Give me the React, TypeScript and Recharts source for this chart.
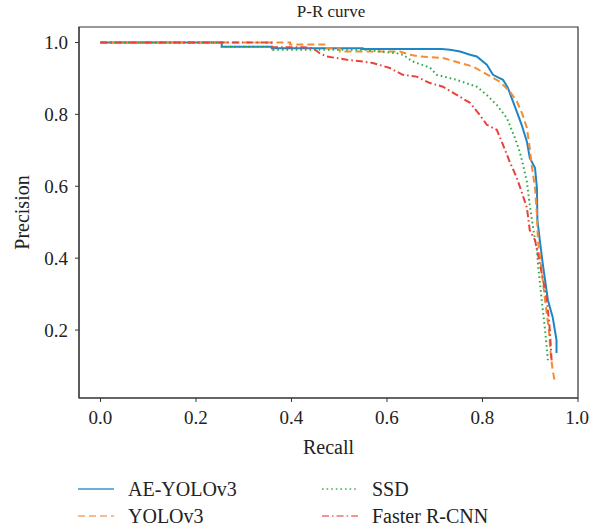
import { LineChart, Line, XAxis, YAxis, ReferenceArea } from "recharts";

const aeRecall = [0, 0.254, 0.254, 0.359, 0.359, 0.549, 0.549, 0.715, 0.732, 0.753, 0.774, 0.788, 0.809, 0.822, 0.843, 0.853, 0.861, 0.872, 0.882, 0.893, 0.899, 0.91, 0.914, 0.915, 0.92, 0.926, 0.937, 0.947, 0.955, 0.955];
const aePrecision = [1, 1, 0.988, 0.988, 0.984, 0.984, 0.982, 0.982, 0.98, 0.975, 0.966, 0.961, 0.938, 0.91, 0.896, 0.874, 0.846, 0.807, 0.771, 0.724, 0.679, 0.651, 0.595, 0.506, 0.45, 0.386, 0.283, 0.236, 0.172, 0.136];

const yoloRecall = [0, 0.397, 0.397, 0.474, 0.474, 0.501, 0.501, 0.627, 0.648, 0.669, 0.717, 0.753, 0.78, 0.811, 0.836, 0.857, 0.872, 0.884, 0.893, 0.899, 0.903, 0.91, 0.914, 0.916, 0.922, 0.931, 0.939, 0.943, 0.947, 0.951];
const yoloPrecision = [1, 1, 0.994, 0.994, 0.984, 0.984, 0.975, 0.975, 0.966, 0.961, 0.957, 0.943, 0.933, 0.91, 0.891, 0.864, 0.836, 0.799, 0.762, 0.706, 0.659, 0.595, 0.52, 0.45, 0.386, 0.283, 0.2, 0.13, 0.088, 0.06];

const ssdRecall = [0, 0.254, 0.254, 0.361, 0.361, 0.549, 0.62, 0.633, 0.654, 0.69, 0.704, 0.746, 0.788, 0.809, 0.83, 0.851, 0.868, 0.878, 0.885, 0.893, 0.899, 0.91, 0.914, 0.916, 0.924, 0.931, 0.937];
const ssdPrecision = [1, 1, 0.988, 0.988, 0.98, 0.98, 0.97, 0.966, 0.947, 0.93, 0.91, 0.896, 0.877, 0.854, 0.826, 0.79, 0.734, 0.696, 0.659, 0.612, 0.548, 0.45, 0.423, 0.386, 0.283, 0.2, 0.116];

const frcnnRecall = [0, 0.358, 0.358, 0.424, 0.445, 0.459, 0.474, 0.516, 0.549, 0.57, 0.606, 0.633, 0.662, 0.69, 0.717, 0.746, 0.774, 0.794, 0.809, 0.83, 0.843, 0.857, 0.872, 0.884, 0.893, 0.899, 0.91, 0.92, 0.935, 0.941, 0.945];
const frcnnPrecision = [1, 1, 0.987, 0.987, 0.984, 0.97, 0.961, 0.952, 0.947, 0.943, 0.929, 0.91, 0.905, 0.887, 0.877, 0.854, 0.832, 0.799, 0.771, 0.757, 0.715, 0.668, 0.623, 0.576, 0.54, 0.478, 0.45, 0.386, 0.283, 0.2, 0.11];

const xTicks = [0, 0.2, 0.4, 0.6, 0.8, 1.0];
const yTicks = [0.2, 0.4, 0.6, 0.8, 1.0];

const zip = (xs: number[], ys: number[]) => xs.map((x, i) => ({ x, y: ys[i] }));

const series = [
  { name: "AE-YOLOv3", data: zip(aeRecall, aePrecision), color: "#1f86c6", dash: undefined, legendColor: "#3a93cc" },
  { name: "YOLOv3", data: zip(yoloRecall, yoloPrecision), color: "#f58b33", dash: "7 4", legendColor: "#f7a466" },
  { name: "SSD", data: zip(ssdRecall, ssdPrecision), color: "#2eaa4a", dash: "1.6 3", legendColor: "#3fb05a" },
  { name: "Faster R-CNN", data: zip(frcnnRecall, frcnnPrecision), color: "#e8423c", dash: "7 3 1.6 3", legendColor: "#f07272" },
];

const font = "Liberation Serif, DejaVu Serif, serif";

function LegendItem({ s, left, top }: { s: (typeof series)[number]; left: number; top: number }) {
  return (
    <div style={{ position: "absolute", left, top, display: "flex", alignItems: "center", height: 24 }}>
      <svg width={36} height={4} style={{ marginRight: 14 }}>
        <line x1={0} y1={2} x2={36} y2={2} stroke={s.legendColor} strokeWidth={1.6} strokeDasharray={s.dash} />
      </svg>
      <span style={{ fontFamily: font, fontSize: 20, color: "#222", whiteSpace: "nowrap" }}>{s.name}</span>
    </div>
  );
}

export default function App() {
  return (
    <div style={{ position: "absolute", left: 0, top: 0, width: 589, height: 527, background: "#fff", fontFamily: font }}>
      <div
        style={{
          position: "absolute",
          left: 231,
          width: 200,
          top: 2,
          textAlign: "center",
          fontFamily: font,
          fontSize: 17,
          color: "#222",
        }}
      >
        P-R curve
      </div>
      <LineChart width={589} height={527} margin={{ top: 27, right: 11, left: 0, bottom: 69 }} style={{ fontFamily: font }}>
        <XAxis
          dataKey="x"
          type="number"
          domain={[-0.045, 1.0]}
          ticks={xTicks}
          tickFormatter={(v: number) => v.toFixed(1)}
          allowDataOverflow
          height={60}
          tickSize={4}
          tickMargin={9}
          stroke="#333"
          tick={{ fill: "#222", fontFamily: font, fontSize: 19 }}
          label={{ value: "Recall", position: "insideBottom", offset: 4, fill: "#222", fontFamily: font, fontSize: 20 }}
        />
        <YAxis
          dataKey="y"
          type="number"
          domain={[0.011, 1.043]}
          ticks={yTicks}
          tickFormatter={(v: number) => v.toFixed(1)}
          allowDataOverflow
          width={79}
          tickSize={4}
          tickMargin={7}
          stroke="#333"
          tick={{ fill: "#222", fontFamily: font, fontSize: 19 }}
          label={{
            value: "Precision",
            angle: -90,
            position: "insideLeft",
            offset: 22,
            fill: "#222",
            fontFamily: font,
            fontSize: 20,
            style: { textAnchor: "middle" },
          }}
        />
        <ReferenceArea x1={-0.045} x2={1.0} y1={0.011} y2={1.043} fill="none" stroke="#333" strokeWidth={1.2} />
        {series.map((s) => (
          <Line
            key={s.name}
            data={s.data}
            dataKey="y"
            type="linear"
            stroke={s.color}
            strokeWidth={2}
            strokeDasharray={s.dash}
            dot={false}
            isAnimationActive={false}
          />
        ))}
      </LineChart>
      <LegendItem s={series[0]} left={78} top={477} />
      <LegendItem s={series[1]} left={78} top={504} />
      <LegendItem s={series[2]} left={322} top={477} />
      <LegendItem s={series[3]} left={322} top={504} />
    </div>
  );
}
